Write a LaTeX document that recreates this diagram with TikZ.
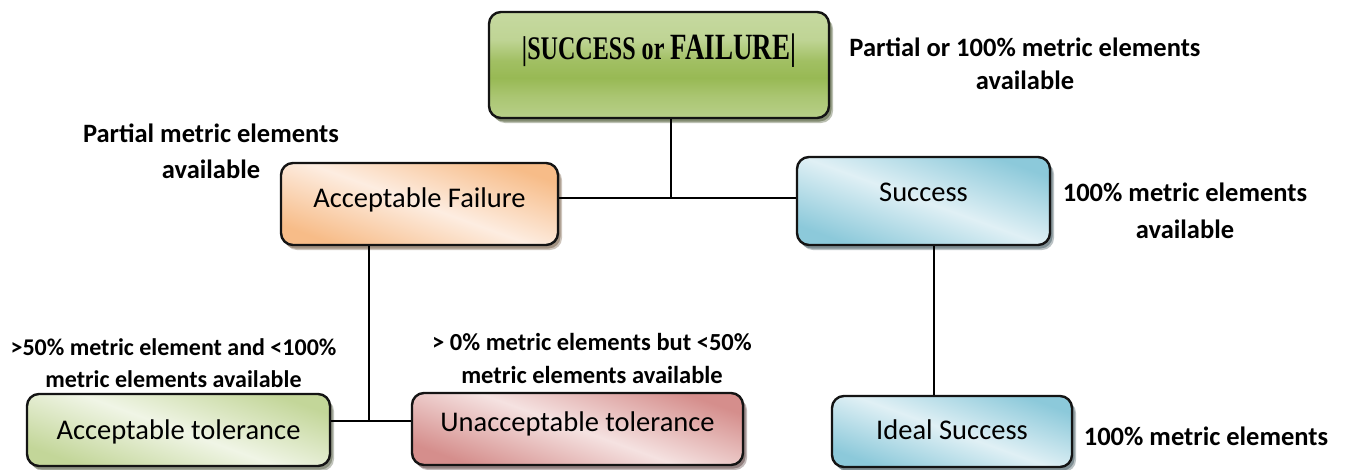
\documentclass[tikz,border=0pt]{standalone}
\usepackage{fontspec}
\setmainfont{Carlito}
\newfontfamily\titlefont[FakeStretch=0.73]{Liberation Serif}

\definecolor{olivedark}{HTML}{98B954}
\definecolor{olivelight}{HTML}{C6D9A0}
\definecolor{peachdark}{HTML}{F7BC88}
\definecolor{peachlight}{HTML}{FDEDE1}
\definecolor{bluedark}{HTML}{8CC9DA}
\definecolor{bluelight}{HTML}{E0F0F5}
\definecolor{sagedark}{HTML}{C3D699}
\definecolor{sagelight}{HTML}{F0F5E6}
\definecolor{rosedark}{HTML}{D58E8C}
\definecolor{roselight}{HTML}{F5E2E1}
\definecolor{edgecol}{HTML}{141414}

% top box: light along the top edge, darkest a little below the middle;
% the box itself covers the 25bp--75bp stretch of this shading
\pgfdeclareverticalshading{rootshade}{100bp}{%
  color(0bp)=(olivelight!70!olivedark); color(25bp)=(olivelight!70!olivedark);
  color(35bp)=(olivedark!60!olivelight); color(44bp)=(olivedark);
  color(52bp)=(olivedark!80!olivelight); color(62bp)=(olivelight!85!olivedark);
  color(75bp)=(olivelight); color(100bp)=(olivelight)}

\tikzset{
  box/.style={draw=edgecol, line width=2.4pt, rounded corners=12pt,
    inner sep=0pt, font=\fontsize{28.5}{34}\selectfont, text height=20pt,
    preaction={fill=#1, fill opacity=.35,
      transform canvas={shift={(4pt,-5pt)}}},
    preaction={fill=#1, fill opacity=.45,
      transform canvas={shift={(2.5pt,-3.5pt)}}}},
  diag/.style={shading angle=-20},
  topbox/.style={box=olivedark!40!black, shading=rootshade},
  failbox/.style={box=peachdark!45!black, top color=peachdark,
    bottom color=peachdark, middle color=peachlight, diag},
  succbox/.style={box=bluedark!40!black, top color=bluedark,
    bottom color=bluedark, middle color=bluelight, diag},
  tolbox/.style={box=sagedark!40!black, top color=sagedark,
    bottom color=sagedark, middle color=sagelight, diag},
  untolbox/.style={box=rosedark!40!black, top color=rosedark,
    bottom color=rosedark, middle color=roselight, diag},
  note/.style={align=center, inner sep=0pt},
  link/.style={line width=2pt, black},
}

\begin{document}
\begin{tikzpicture}[x=1pt, y=-1pt]
  \useasboundingbox (0,0) rectangle (1345,469);

  % boxes
  \node[topbox, minimum width=340pt, minimum height=106pt,
        text height=47.5pt, text depth=58.5pt] (root) at (659,65)
    {\titlefont\bfseries\fontsize{33}{40}\selectfont |SUCCESS or \fontsize{37}{40}\selectfont FAILURE|};
  \node[failbox, minimum width=277pt, minimum height=82pt, text depth=13pt] (fail) at (419.5,204)
    {Acceptable Failure};
  \node[succbox, minimum width=253pt, minimum height=88pt, text depth=19pt] (succ) at (923.5,201)
    {Success};
  \node[tolbox, minimum width=303pt, minimum height=72pt, text depth=1pt] (tol) at (178.5,430)
    {Acceptable tolerance};
  \node[untolbox, minimum width=331pt, minimum height=72pt, text depth=15pt] (untol) at (577.5,429)
    {Unacceptable tolerance};
  \node[succbox, minimum width=240pt, minimum height=71pt, text depth=4pt] (ideal) at (952,431.5)
    {Ideal Success};

  % junction points of the connectors
  \coordinate (j1) at (671,198);
  \coordinate (j2) at (369,421);
  \coordinate (s1) at (934,300);

  % connectors
  \draw[link] (root.south -| j1) -- (j1);
  \draw[link] (fail.east |- j1) -- (succ.west |- j1);
  \draw[link] (fail.south -| j2) -- (j2);
  \draw[link] (tol.east |- j2) -- (untol.west |- j2);
  \draw[link] (succ.south -| s1) -- (ideal.north -| s1);

  % annotations
  \node[note, font=\bfseries\fontsize{26.5}{33}\selectfont] (nroot) at (1025,63.5)
    {Partial or 100\% metric elements\\available};
  \node[note, font=\bfseries\fontsize{26.5}{36}\selectfont] (nfail) at (211,150.8)
    {Partial metric elements\\available};
  \node[note, font=\bfseries\fontsize{26.5}{37}\selectfont] (nsucc) at (1185,210.3)
    {100\% metric elements\\available};
  \node[note, font=\bfseries\fontsize{24}{32}\selectfont] (ntol) at (173.5,363.5)
    {>50\% metric element and <100\%\\metric elements available};
  \node[note, font=\bfseries\fontsize{24.5}{33}\selectfont] (nuntol) at (592,358.5)
    {> 0\% metric elements but <50\%\\metric elements available};
  \node[note, font=\bfseries\fontsize{26.5}{32}\selectfont, anchor=base] (nideal) at (1206,445)
    {100\% metric elements};
\end{tikzpicture}
\end{document}
